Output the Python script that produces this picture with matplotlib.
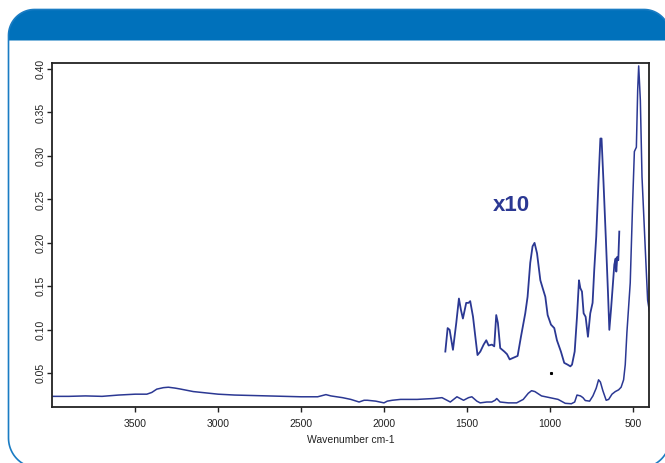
import numpy as np
import matplotlib
matplotlib.use("Agg")
import matplotlib.pyplot as plt

# IR spectrum, absorbance vs wavenumber (cm-1)
wavenumber = [3999, 3900, 3800, 3700, 3600, 3500, 3430, 3400, 3370, 3330, 3300,
              3260, 3230, 3150, 3100, 3000, 2900, 2800, 2700, 2600, 2500, 2400,
              2350, 2320, 2250, 2200, 2150, 2120, 2100, 2050, 2000, 1980, 1950,
              1900, 1800, 1700, 1650, 1620, 1600, 1580, 1560, 1540, 1520, 1490,
              1470, 1440, 1420, 1380, 1350, 1330, 1320, 1300, 1250, 1200, 1160,
              1130, 1110, 1090, 1050, 1000, 950, 907, 870, 850, 836, 815, 800,
              786, 760, 740, 720, 706, 695, 680, 660, 645, 625, 605, 585, 570,
              555, 545, 535, 515, 500, 490, 478, 470, 464, 454, 444, 424, 410, 399]
absorbance = [0.0235, 0.0235, 0.024, 0.0235, 0.025, 0.026, 0.026, 0.028, 0.0318,
              0.0335, 0.034, 0.033, 0.032, 0.029, 0.028, 0.026, 0.025, 0.0245,
              0.024, 0.0235, 0.023, 0.023, 0.0255, 0.024, 0.022, 0.020, 0.017,
              0.019, 0.019, 0.018, 0.016, 0.018, 0.019, 0.020, 0.020, 0.021,
              0.022, 0.019, 0.017, 0.020, 0.023, 0.021, 0.019, 0.022, 0.023,
              0.018, 0.016, 0.017, 0.017, 0.019, 0.021, 0.017, 0.016, 0.016,
              0.020, 0.027, 0.030, 0.029, 0.024, 0.022, 0.020, 0.0155, 0.015,
              0.017, 0.025, 0.024, 0.022, 0.0187, 0.018, 0.024, 0.033, 0.0425,
              0.040, 0.030, 0.019, 0.020, 0.026, 0.029, 0.031, 0.034, 0.0425,
              0.060, 0.097, 0.154, 0.249, 0.305, 0.310, 0.376, 0.4035, 0.364,
              0.276, 0.192, 0.134, 0.121]

# fingerprint region, intensity scaled x10
wn_x10 = [1630, 1616, 1604, 1584, 1564, 1548, 1536, 1524, 1504, 1490, 1480, 1463,
          1449, 1436, 1419, 1399, 1383, 1369, 1349, 1335, 1323, 1313, 1299, 1274,
          1258, 1242, 1218, 1194, 1174, 1148, 1134, 1118, 1104, 1092, 1077, 1057,
          1043, 1027, 1013, 993, 973, 957, 933, 913, 893, 876, 866, 850, 836, 824,
          816, 806, 796, 784, 770, 756, 742, 732, 720, 706, 695, 688, 676, 661,
          649, 641, 631, 619, 611, 603, 599, 593, 587, 581]
abs_x10 = [0.075, 0.102, 0.100, 0.077, 0.108, 0.136, 0.123, 0.113, 0.131, 0.131,
           0.133, 0.115, 0.092, 0.071, 0.075, 0.083, 0.088, 0.082, 0.083, 0.081,
           0.117, 0.108, 0.079, 0.075, 0.072, 0.066, 0.068, 0.070, 0.092, 0.119,
           0.138, 0.177, 0.196, 0.200, 0.188, 0.157, 0.148, 0.138, 0.117, 0.106,
           0.102, 0.088, 0.075, 0.062, 0.060, 0.058, 0.060, 0.075, 0.115, 0.157,
           0.148, 0.144, 0.119, 0.115, 0.092, 0.119, 0.131, 0.169, 0.207, 0.272,
           0.320, 0.320, 0.269, 0.200, 0.142, 0.100, 0.123, 0.154, 0.175, 0.182,
           0.167, 0.184, 0.180, 0.213]

speck_wn = [991]
speck_abs = [0.0506]

x_ticks = [3500, 3000, 2500, 2000, 1500, 1000, 500]
y_ticks = [0.05, 0.10, 0.15, 0.20, 0.25, 0.30, 0.35, 0.40]

W, H = 665, 463
line_color = "#2b3893"
panel_blue = "#0071bb"


def corner(cx, cy, r, a0, a1, n=24):
    t = np.radians(np.linspace(a0, a1, n))
    return cx + r * np.cos(t), cy + r * np.sin(t)


fig = plt.figure(figsize=(W / 100, H / 100), dpi=100, facecolor="white")

# background panel in pixel units (y grows downward)
bg = fig.add_axes([0, 0, 1, 1], zorder=0)
bg.set_xlim(0, W)
bg.set_ylim(H, 0)
bg.axis("off")

left, right, top, bottom, head = 8.5, 670.0, 9.5, 468.0, 40.5
r_top, r_bot = 26, 30

# header band: rounded top corners, square lower edge
tlx, tly = corner(left + r_top, top + r_top, r_top, 180, 270)
trx, try_ = corner(right - r_top, top + r_top, r_top, 270, 360)
hx = np.concatenate([[left], tlx, trx, [right, left]])
hy = np.concatenate([[head], tly, try_, [head, head]])
bg.fill(hx, hy, color=panel_blue, linewidth=0)

# outline of the panel
blx, bly = corner(left + r_bot, bottom - r_bot, r_bot, 180, 90)
brx, bry = corner(right - r_bot, bottom - r_bot, r_bot, 90, 0)
ox = np.concatenate([blx[::-1], tlx, trx, brx[::-1], blx[-1:]])
oy = np.concatenate([bly[::-1], tly, try_, bry[::-1], bly[-1:]])
bg.plot(ox, oy, color="#1a7cc3", linewidth=1.2)

ax = fig.add_axes([52.3 / W, 1 - 406.7 / H, (649.3 - 52.3) / W, (406.7 - 62.7) / H],
                  zorder=1)
ax.plot(wavenumber, absorbance, color=line_color, linewidth=1.1)
ax.plot(wn_x10, abs_x10, color=line_color, linewidth=1.3)
ax.plot(speck_wn, speck_abs, "s", color="black", markersize=1.2)
ax.text(1232, 0.2425, "x10", color=line_color, fontsize=16, fontweight="bold",
        family="Liberation Sans", ha="center", va="center")

ax.set_xlim(4000, 400)
ax.set_ylim(0.0116, 0.4072)
ax.set_xticks(x_ticks)
ax.set_yticks(y_ticks)
ax.set_xticklabels([str(t) for t in x_ticks])
ax.set_yticklabels(["%.2f" % t for t in y_ticks], rotation=90, va="center")
ax.tick_params(direction="out", length=3.5, width=1.0, labelsize=7.5, colors="#222222")
ax.tick_params(axis="x", pad=5)
ax.tick_params(axis="y", pad=1.5)
for lbl in ax.get_xticklabels() + ax.get_yticklabels():
    lbl.set_family("Liberation Sans")
ax.set_xlabel("Wavenumber cm-1", fontsize=7.5, family="Liberation Sans",
              color="#222222", labelpad=5)
for s in ax.spines.values():
    s.set_linewidth(1.3)
    s.set_color("#222222")

fig.savefig("out.png", dpi=100)
